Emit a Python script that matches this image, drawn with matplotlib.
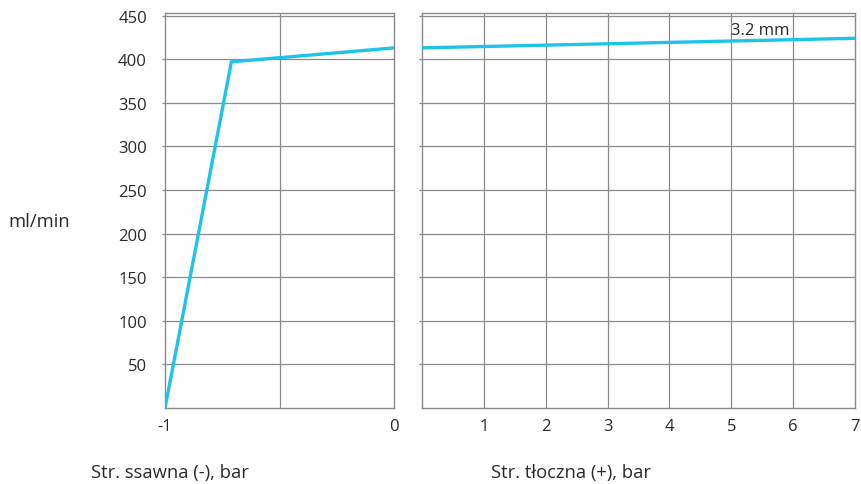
import matplotlib
matplotlib.use("Agg")
import matplotlib.pyplot as plt

plt.rcParams['font.family'] = ['Open Sans', 'DejaVu Sans']

# Data
suction_x = [-1.0, -0.71, 0.0]
suction_y = [0, 397, 413]
press_x = [0, 7]
press_y = [413, 424]
y_ticks = [50, 100, 150, 200, 250, 300, 350, 400, 450]
left_xticks = [-1, 0]
left_xgrid = [-0.5]
right_xticks = [1, 2, 3, 4, 5, 6, 7]
series_label = "3.2 mm"
y_label = "ml/min"
left_xlabel = "Str. ssawna (-), bar"
right_xlabel = "Str. tłoczna (+), bar"

line_color = "#1ec3ea"
grid_color = "#8a8a8a"
text_color = "#2a2a2a"
fs_tick = 12
fs_lab = 13.2

fig = plt.figure(figsize=(8.61, 4.85), dpi=100)
axL = fig.add_axes([165/861, 1-409/485, (394-165)/861, (409-14)/485])
axR = fig.add_axes([422/861, 1-409/485, (855-422)/861, (409-14)/485])

for ax in (axL, axR):
    ax.set_ylim(0, 453)
    for s in ax.spines.values():
        s.set_color(grid_color)
        s.set_linewidth(1.0)
    for yv in y_ticks:
        ax.axhline(yv, color=grid_color, lw=0.9, zorder=1)
    ax.set_yticks(y_ticks)
    ax.tick_params(axis='y', length=2.5, color=grid_color, width=0.9)
    ax.tick_params(axis='x', length=0, pad=7.5, labelsize=fs_tick, labelcolor=text_color)

axL.set_xlim(-1, 0)
axL.set_xticks(left_xticks)
axL.set_xticklabels([str(v) for v in left_xticks])
for xv in left_xgrid:
    axL.axvline(xv, color=grid_color, lw=0.9, zorder=1)
axL.set_yticklabels([str(v) for v in y_ticks], fontsize=fs_tick, color=text_color)
axL.tick_params(axis='y', pad=10.5)
axL.plot(suction_x, suction_y, color=line_color, lw=2.4, zorder=3, solid_joinstyle='miter')

axR.set_xlim(0, 7)
axR.set_xticks(right_xticks)
axR.set_xticklabels([str(v) for v in right_xticks])
for xv in right_xticks[:-1]:
    axR.axvline(xv, color=grid_color, lw=0.9, zorder=1)
axR.set_yticklabels([])
axR.plot(press_x, press_y, color=line_color, lw=2.4, zorder=3)
axR.text(5.0, 433, series_label, fontsize=fs_tick, color=text_color, va='center', ha='left', zorder=4)

fig.text(8/861, 1-222/485, y_label, fontsize=fs_lab, color=text_color, va='center', ha='left')
fig.text(170/861, 1-473/485, left_xlabel, fontsize=fs_lab, color=text_color, va='center', ha='center')
fig.text(571/861, 1-473/485, right_xlabel, fontsize=fs_lab, color=text_color, va='center', ha='center')

fig.savefig("out.png", dpi=100)
